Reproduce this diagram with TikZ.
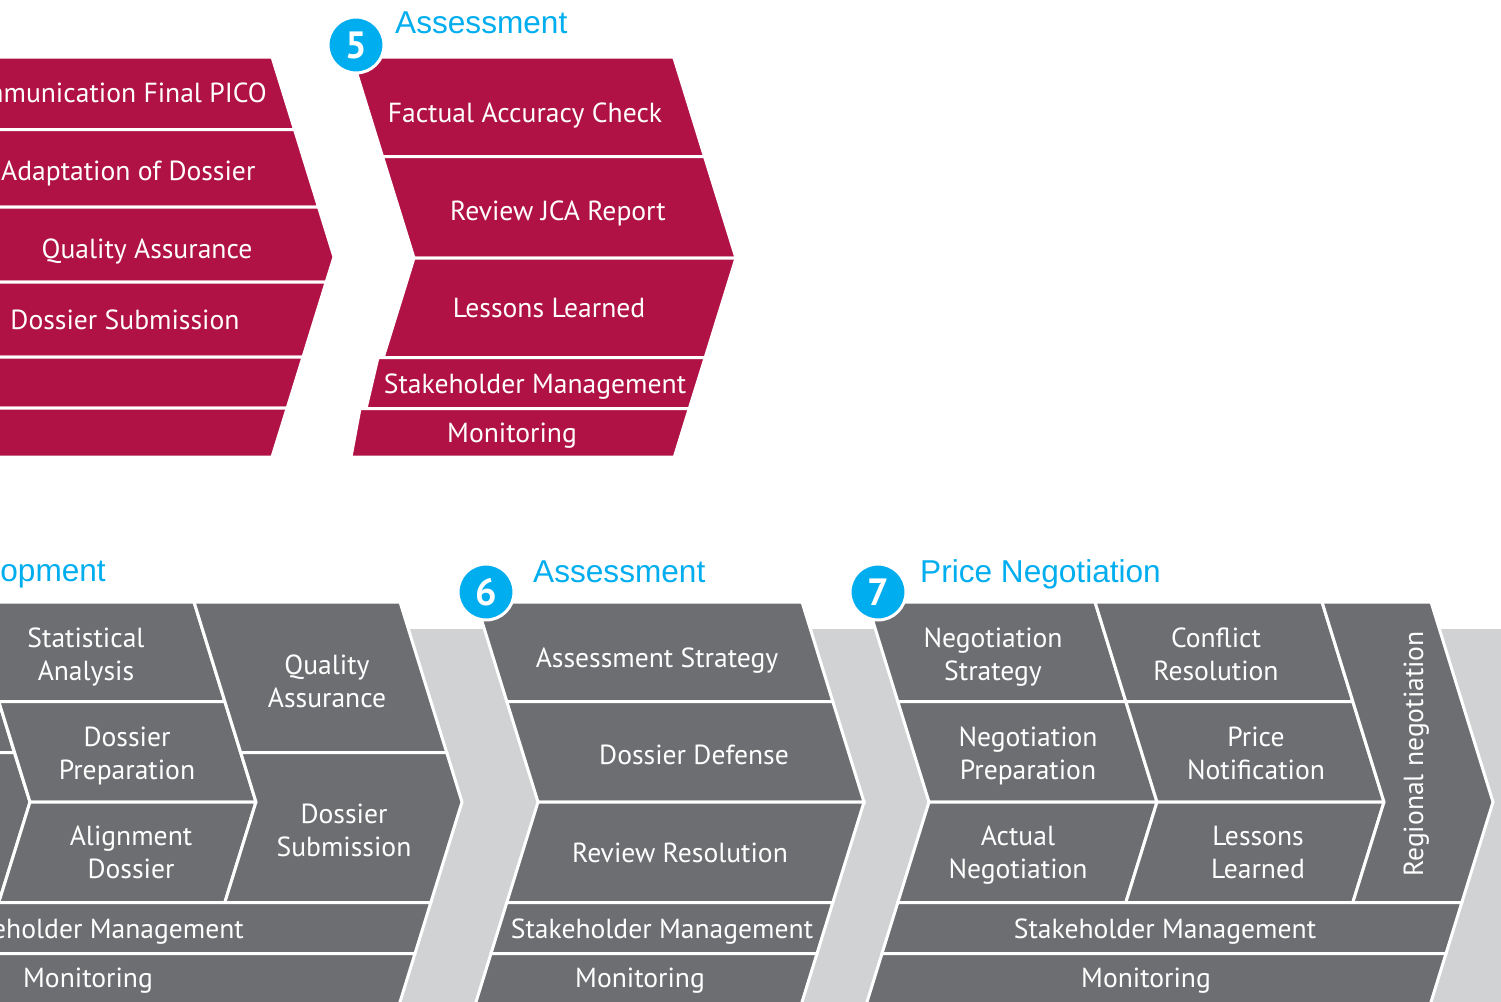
\documentclass[tikz,border=0pt]{standalone}
\usepackage{fontspec}
\setmainfont{PT Sans}
\newfontfamily\titlefont{Liberation Sans}
\definecolor{magen}{RGB}{176,18,70}
\definecolor{dgrey}{RGB}{109,110,113}
\definecolor{lgrey}{RGB}{209,210,212}
\definecolor{cyanb}{RGB}{0,174,239}
\begin{document}
\begin{tikzpicture}[x=1pt,y=-1pt,
  cell/.style={draw=white, line width=3pt, line join=miter},
  mag/.style={cell, fill=magen},
  dg/.style={cell, fill=dgrey},
  lbl/.style={text=white, font=\fontsize{27.6}{33}\selectfont, align=center, inner sep=0pt, anchor=base},
  ttl/.style={text=cyanb, font=\titlefont\fontsize{31.6}{36}\selectfont, inner sep=0pt},
  num/.style={circle, fill=cyanb, draw=white, line width=3pt, minimum size=56pt, inner sep=0pt, text=white, font=\bfseries\fontsize{38}{38}\selectfont}]
\useasboundingbox (0,0) rectangle (1501,1001);
\clip (0,0) rectangle (1501,1001);
\fill[white] (0,0) rectangle (1501,1001);
% light grey band
\fill[lgrey] (-10,629) rectangle (1511,1012);

% ---------- top left magenta chevron ----------
\path[mag] (-10,57) -- (272,57) -- (294.5,129.5) -- (-10,129.5) -- cycle;
\path[mag] (-10,129.5) -- (294.5,129.5) -- (318.5,207) -- (-10,207) -- cycle;
\path[mag] (-10,207) -- (318.5,207) -- (334,257) -- (326.2,282) -- (-10,282) -- cycle;
\path[mag] (-10,282) -- (326.2,282) -- (303,357) -- (-10,357) -- cycle;
\path[mag] (-10,357) -- (303,357) -- (287.2,408) -- (-10,408) -- cycle;
\path[mag] (-10,408) -- (287.2,408) -- (272,457) -- (-10,457) -- cycle;
\node[lbl, anchor=base east] (m1) at (267,102) {Communication Final PICO};
\node[lbl, anchor=base west] (m2) at (1,180) {Adaptation of Dossier};
\node[lbl] (m3) at (147,258) {Quality Assurance};
\node[lbl] (m4) at (125,329) {Dossier Submission};

% ---------- chevron 5 ----------
\path[mag] (351.7,57) -- (673.7,57) -- (704.5,156.5) -- (382.5,156.5) -- cycle;
\path[mag] (382.5,156.5) -- (704.5,156.5) -- (736,258) -- (414,258) -- cycle;
\path[mag] (414,258) -- (736,258) -- (705.2,357.5) -- (383.2,357.5) -- cycle;
\path[mag] (378,357.5) -- (705.2,357.5) -- (689.3,408.5) -- (366,408.5) -- cycle;
\path[mag] (360,408.5) -- (689.3,408.5) -- (674.3,457) -- (351,457) -- cycle;
\node[lbl] (a1) at (525,122) {Factual Accuracy Check};
\node[lbl] (a2) at (558,220) {Review JCA Report};
\node[lbl] (a3) at (549,317) {Lessons Learned};
\node[lbl] (a4) at (535,393) {Stakeholder Management};
\node[lbl] (a5) at (512,442) {Monitoring};
\node[ttl, anchor=base west] (t5) at (395,33) {Assessment};
\node[num] (n5) at (356,45) {5};

% ---------- bottom chevron 4 (development) ----------
\path[dg] (-40,602) -- (-32,602) -- (-1.2,701.5) -- (14.3,752.5) -- (-40,752.5) -- cycle;
\path[dg] (-40,752.5) -- (14.3,752.5) -- (30,802) -- (-1.2,902.5) -- (-40,902.5) -- cycle;
\path[dg] (-32,602) -- (194,602) -- (224.8,701.5) -- (-1.2,701.5) -- cycle;
\path[dg] (-1.2,701.5) -- (224.8,701.5) -- (256,802) -- (30,802) -- cycle;
\path[dg] (30,802) -- (256,802) -- (224.8,902.5) -- (-1.2,902.5) -- cycle;
\path[dg] (194,602) -- (400,602) -- (446.7,752.5) -- (240.7,752.5) -- cycle;
\path[dg] (240.7,752.5) -- (446.7,752.5) -- (462,802) -- (430.8,902.5) -- (224.8,902.5) -- (256,802) -- cycle;
\path[dg] (-40,902.5) -- (430.8,902.5) -- (415,953.5) -- (-40,953.5) -- cycle;
\path[dg] (-40,953.5) -- (415,953.5) -- (396.9,1012) -- (-40,1012) -- cycle;
\node[ttl, anchor=base east] (t4) at (106,581) {Development};
\node[lbl] (d1) at (86,680) {Statistical\\Analysis};
\node[lbl] (d2) at (327,707) {Quality\\Assurance};
\node[lbl] (d3) at (127,779) {Dossier\\Preparation};
\node[lbl] (d4) at (131,878) {Alignment\\Dossier};
\node[lbl] (d5) at (344,856) {Dossier\\Submission};
\node[lbl, anchor=base east] (d6) at (244,938) {Stakeholder Management};
\node[lbl] (d7) at (88,987) {Monitoring};

% ---------- bottom chevron 6 (assessment) ----------
\path[dg] (476,602) -- (802,602) -- (832.8,701.5) -- (506.8,701.5) -- cycle;
\path[dg] (506.8,701.5) -- (832.8,701.5) -- (864,802) -- (538,802) -- cycle;
\path[dg] (538,802) -- (864,802) -- (832.8,902.5) -- (506.8,902.5) -- cycle;
\path[dg] (506.8,902.5) -- (832.8,902.5) -- (817,953.5) -- (491,953.5) -- cycle;
\path[dg] (491,953.5) -- (817,953.5) -- (798.9,1012) -- (472.9,1012) -- cycle;
\node[ttl, anchor=base west] (t6) at (533,582) {Assessment};
\node[num] (n6) at (486,592) {6};
\node[lbl] (e1) at (657,667) {Assessment Strategy};
\node[lbl] (e2) at (694,764) {Dossier Defense};
\node[lbl] (e3) at (680,862) {Review Resolution};
\node[lbl] (e4) at (662,938) {Stakeholder Management};
\node[lbl] (e5) at (640,987) {Monitoring};

% ---------- bottom chevron 7 (price negotiation) ----------
\path[dg] (867,602) -- (1095,602) -- (1125.8,701.5) -- (897.8,701.5) -- cycle;
\path[dg] (897.8,701.5) -- (1125.8,701.5) -- (1157,802) -- (929,802) -- cycle;
\path[dg] (929,802) -- (1157,802) -- (1125.8,902.5) -- (897.8,902.5) -- cycle;
\path[dg] (1095,602) -- (1322,602) -- (1352.8,701.5) -- (1125.8,701.5) -- cycle;
\path[dg] (1125.8,701.5) -- (1352.8,701.5) -- (1384,802) -- (1157,802) -- cycle;
\path[dg] (1157,802) -- (1384,802) -- (1352.8,902.5) -- (1125.8,902.5) -- cycle;
\path[dg] (1322,602) -- (1431,602) -- (1493,802) -- (1461.8,902.5) -- (1352.8,902.5) -- (1384,802) -- cycle;
\path[dg] (897.8,902.5) -- (1461.8,902.5) -- (1446,953.5) -- (882,953.5) -- cycle;
\path[dg] (882,953.5) -- (1446,953.5) -- (1427.9,1012) -- (863.9,1012) -- cycle;
\node[ttl, anchor=base west] (t7) at (920,582) {Price Negotiation};
\node[num] (n7) at (878,592) {7};
\node[lbl] (p1) at (993,680) {Negotiation\\Strategy};
\node[lbl] (p2) at (1216,680) {Conflict\\Resolution};
\node[lbl] (p3) at (1028,779) {Negotiation\\Preparation};
\node[lbl] (p4) at (1256,779) {Price\\Notification};
\node[lbl] (p5) at (1018,878) {Actual\\Negotiation};
\node[lbl] (p6) at (1258,878) {Lessons\\Learned};
\node[lbl, rotate=90] (p7) at (1423,754) {Regional negotiation};
\node[lbl] (p8) at (1165,938) {Stakeholder Management};
\node[lbl] (p9) at (1146,987) {Monitoring};
\end{tikzpicture}
\end{document}
